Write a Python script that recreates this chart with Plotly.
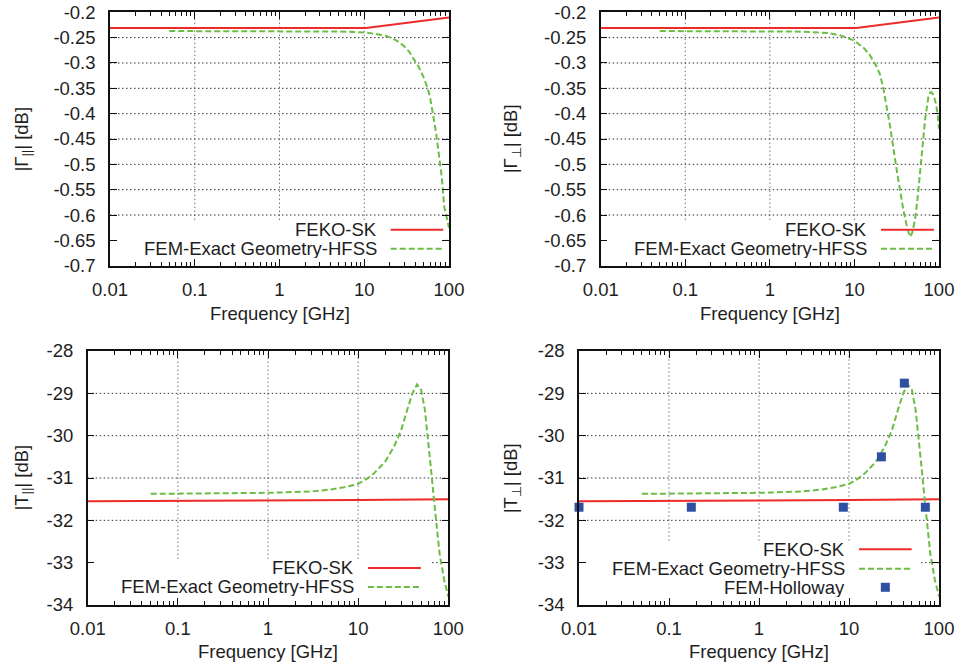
import plotly.graph_objects as go

# ---------------- data ----------------
# Reflection, FEKO-SK (both polarisations)
gam_feko_f = [0.01, 1, 10.5, 100]
gam_feko_v = [-0.231, -0.231, -0.231, -0.210]

# Reflection parallel, HFSS
gpar_hfss_f = [0.05, 0.1, 0.3, 1, 3, 5, 8, 10.7, 15, 18.4, 22, 26.3, 30, 34, 38,
               44, 49.8, 55, 59.7, 65.3, 70, 74.8, 82, 88, 96.3, 100]
gpar_hfss_v = [-0.237, -0.237, -0.237, -0.237, -0.237, -0.238, -0.239, -0.240, -0.244,
               -0.247, -0.252, -0.260, -0.268, -0.278, -0.291, -0.308, -0.327, -0.346,
               -0.367, -0.403, -0.435, -0.472, -0.524, -0.584, -0.613, -0.625]

# Reflection perpendicular, HFSS
gper_hfss_f = [0.05, 0.1, 0.5, 1, 2, 3, 5, 7, 10, 13, 15, 18, 20, 22, 26.4, 31.6,
               37.9, 42, 45.4, 48, 52, 56, 59.7, 64, 68.4, 74.9, 79, 82, 86, 92, 97, 100]
gper_hfss_v = [-0.237, -0.237, -0.237, -0.237, -0.238, -0.239, -0.241, -0.246, -0.256,
               -0.271, -0.283, -0.305, -0.322, -0.350, -0.425, -0.511, -0.590, -0.625,
               -0.643, -0.636, -0.610, -0.565, -0.511, -0.460, -0.4125, -0.3665, -0.358,
               -0.358, -0.363, -0.380, -0.405, -0.430]

# Transmission, FEKO-SK
t_feko_f = [0.01, 1, 10, 100]
t_feko_v = [-31.55, -31.54, -31.52, -31.50]

# Transmission, HFSS
t_hfss_f = [0.05, 0.1, 1, 3, 5, 7, 10, 12.5, 15, 20, 25, 30, 35, 40, 45, 50, 55,
            60, 65, 70, 75, 80, 90, 100]
t_hfss_v = [-31.37, -31.37, -31.35, -31.32, -31.27, -31.22, -31.14, -31.02, -30.89,
            -30.61, -30.26, -29.87, -29.39, -29.00, -28.79, -28.92, -29.39, -30.10,
            -30.89, -31.60, -32.30, -32.78, -33.41, -33.80]

# Transmission perpendicular, FEM-Holloway
hol_f = [0.01, 0.177, 8.65, 22.9, 41.2, 70.5]
hol_v = [-31.69, -31.69, -31.69, -30.50, -28.76, -31.69]

x_tickvals = [0.01, 0.1, 1, 10, 100]
x_ticktext = ["0.01", "0.1", "1", "10", "100"]
gam_tickvals = [-0.2, -0.25, -0.3, -0.35, -0.4, -0.45, -0.5, -0.55, -0.6, -0.65, -0.7]
gam_ticktext = ["-0.2", "-0.25", "-0.3", "-0.35", "-0.4", "-0.45", "-0.5", "-0.55",
                "-0.6", "-0.65", "-0.7"]
t_tickvals = [-28, -29, -30, -31, -32, -33, -34]
t_ticktext = ["-28", "-29", "-30", "-31", "-32", "-33", "-34"]

ylabels = ["|Γ<sub>||</sub>| [dB]", "|Γ<sub>⊥</sub>| [dB]",
           "|T<sub>||</sub>| [dB]", "|T<sub>⊥</sub>| [dB]"]
xlabel = "Frequency [GHz]"
names = ["FEKO-SK", "FEM-Exact Geometry-HFSS", "FEM-Holloway"]

# ---------------- styling ----------------
W, H = 959, 667
RED = "#ee2a2a"
GREEN = "#6cbd45"
BLUE = "#2f50a2"
FONT = "Liberation Sans, Arial, sans-serif"
TXT = "#1e1e1e"
FS = 18.5

# plot boxes in pixels (left, right, top, bottom)
boxes = [(110, 449, 12.3, 265.7), (600.7, 939, 12.3, 265.7),
         (87.7, 448.3, 351, 605), (579, 939, 351, 605)]

minor_vals = [m * 10 ** e for e in range(-2, 2) for m in range(2, 10)]


def sfx(i):
    return "" if i == 0 else str(i + 1)


fig = go.Figure()


def add_line(i, f, v, color, dash=None):
    fig.add_trace(go.Scatter(
        x=f, y=v, mode="lines", xaxis="x" + sfx(i), yaxis="y" + sfx(i),
        line=dict(color=color, width=2, dash=dash), showlegend=False, hoverinfo="skip"))


add_line(0, gam_feko_f, gam_feko_v, RED)
add_line(0, gpar_hfss_f, gpar_hfss_v, GREEN, "6px,3px")
add_line(1, gam_feko_f, gam_feko_v, RED)
add_line(1, gper_hfss_f, gper_hfss_v, GREEN, "6px,3px")
add_line(2, t_feko_f, t_feko_v, RED)
add_line(2, t_hfss_f, t_hfss_v, GREEN, "6px,3px")
add_line(3, t_feko_f, t_feko_v, RED)
add_line(3, t_hfss_f, t_hfss_v, GREEN, "6px,3px")
fig.add_trace(go.Scatter(
    x=hol_f, y=hol_v, mode="markers", xaxis="x4", yaxis="y4",
    marker=dict(symbol="square", size=9, color=BLUE), cliponaxis=False,
    showlegend=False, hoverinfo="skip"))

layout = dict(width=W, height=H, autosize=False,
              margin=dict(l=0, r=0, t=0, b=0, autoexpand=False),
              paper_bgcolor="white", plot_bgcolor="white",
              font=dict(family=FONT, size=FS, color=TXT))

annotations = []
shapes = []

# key box (x_left, x_right, y_top) in axis-domain fractions
key_boxes = [(0.0, 0.99, 0.18), (0.0, 0.99, 0.18), (0.0, 0.955, 0.181), (0.0, 0.95, 0.253)]

for i, (l, r, t, b) in enumerate(boxes):
    xd = [l / W, r / W]
    yd = [1 - b / H, 1 - t / H]
    gam = i < 2
    s = sfx(i)
    axis_common = dict(showline=True, linecolor="#111", linewidth=1.5, mirror="allticks",
                       ticks="inside", ticklen=7, tickwidth=1, tickcolor="#111",
                       tickfont=dict(family=FONT, size=FS, color=TXT), zeroline=False,
                       showgrid=False, automargin=False)
    layout["xaxis" + s] = dict(
        axis_common, domain=xd, anchor="y" + s, type="log", ticklabelstandoff=6,
        range=[-2, 2], tickmode="array", tickvals=x_tickvals, ticktext=x_ticktext,
        minor=dict(tickmode="array", tickvals=minor_vals, ticks="inside", ticklen=4,
                   tickwidth=1, tickcolor="#111", showgrid=False))
    yv = gam_tickvals if gam else t_tickvals
    layout["yaxis" + s] = dict(
        axis_common, domain=yd, anchor="x" + s, ticklabelstandoff=9,
        range=[-0.7, -0.2] if gam else [-34, -28], tickmode="array",
        tickvals=yv, ticktext=gam_ticktext if gam else t_ticktext)

    # gridlines (dotted), interrupted by the key box
    xr, yr = "x" + s + " domain", "y" + s + " domain"
    kx0, kx1, ky = key_boxes[i]
    for gx in (0.25, 0.5, 0.75):
        shapes.append(dict(type="line", xref=xr, yref=yr, x0=gx, x1=gx, y0=ky, y1=1,
                           layer="below", line=dict(color="#777", width=1, dash="1.5px,2.5px")))
    n = len(yv)
    for k in range(1, n - 1):
        gy = k / (n - 1)
        a = 0 if gy > ky else kx1
        shapes.append(dict(type="line", xref=xr, yref=yr, x0=a, x1=1, y0=gy, y1=gy,
                           layer="below",
                           line=dict(color="#333", width=1, dash="1.5px,2.5px")))

    # axis titles
    annotations.append(dict(text=xlabel, xref="paper", yref="paper",
                            x=(l + r) / 2 / W, y=1 - (313 if i < 2 else 651.7) / H,
                            xanchor="center", yanchor="middle", showarrow=False,
                            font=dict(size=FS, color=TXT)))
    annotations.append(dict(text=ylabels[i], xref="paper", yref="paper",
                            x=(22.5 if i % 2 == 0 else 512.3) / W, y=1 - (t + b) / 2 / H,
                            xanchor="center", yanchor="middle", textangle=-90,
                            showarrow=False, font=dict(size=FS, color=TXT)))

# legend keys
key_text_x = [0.7935, 0.793, 0.744, 0.7436]
key_line = [(0.828, 0.983), (0.8286, 0.985), (0.777, 0.924), (0.7778, 0.924)]
key_rows = [[0.142, 0.067], [0.142, 0.067], [0.1457, 0.0709], [0.2193, 0.1429, 0.0697]]
for i in range(4):
    s = sfx(i)
    xr, yr = "x" + s + " domain", "y" + s + " domain"
    for j, yy in enumerate(key_rows[i]):
        annotations.append(dict(text=names[j], xref=xr, yref=yr, height=19,
                                x=key_text_x[i], y=yy, xanchor="right", yanchor="middle",
                                showarrow=False, font=dict(size=FS, color=TXT)))
        x0, x1 = key_line[i]
        if j == 0:
            shapes.append(dict(type="line", xref=xr, yref=yr,
                               x0=x0, x1=x1, y0=yy, y1=yy, line=dict(color=RED, width=2)))
        elif j == 1:
            shapes.append(dict(type="line", xref=xr, yref=yr,
                               x0=x0, x1=x1, y0=yy, y1=yy,
                               line=dict(color=GREEN, width=2, dash="6px,3px")))
        else:
            cx = (x0 + x1) / 2
            hw, hh = 4.5 / 360, 4.5 / 254
            shapes.append(dict(type="rect", xref=xr, yref=yr,
                               x0=cx - hw, x1=cx + hw, y0=yy - hh, y1=yy + hh,
                               fillcolor=BLUE, line=dict(width=0)))

layout["annotations"] = annotations
layout["shapes"] = shapes
fig.update_layout(**layout)
fig.write_html("out.html")
